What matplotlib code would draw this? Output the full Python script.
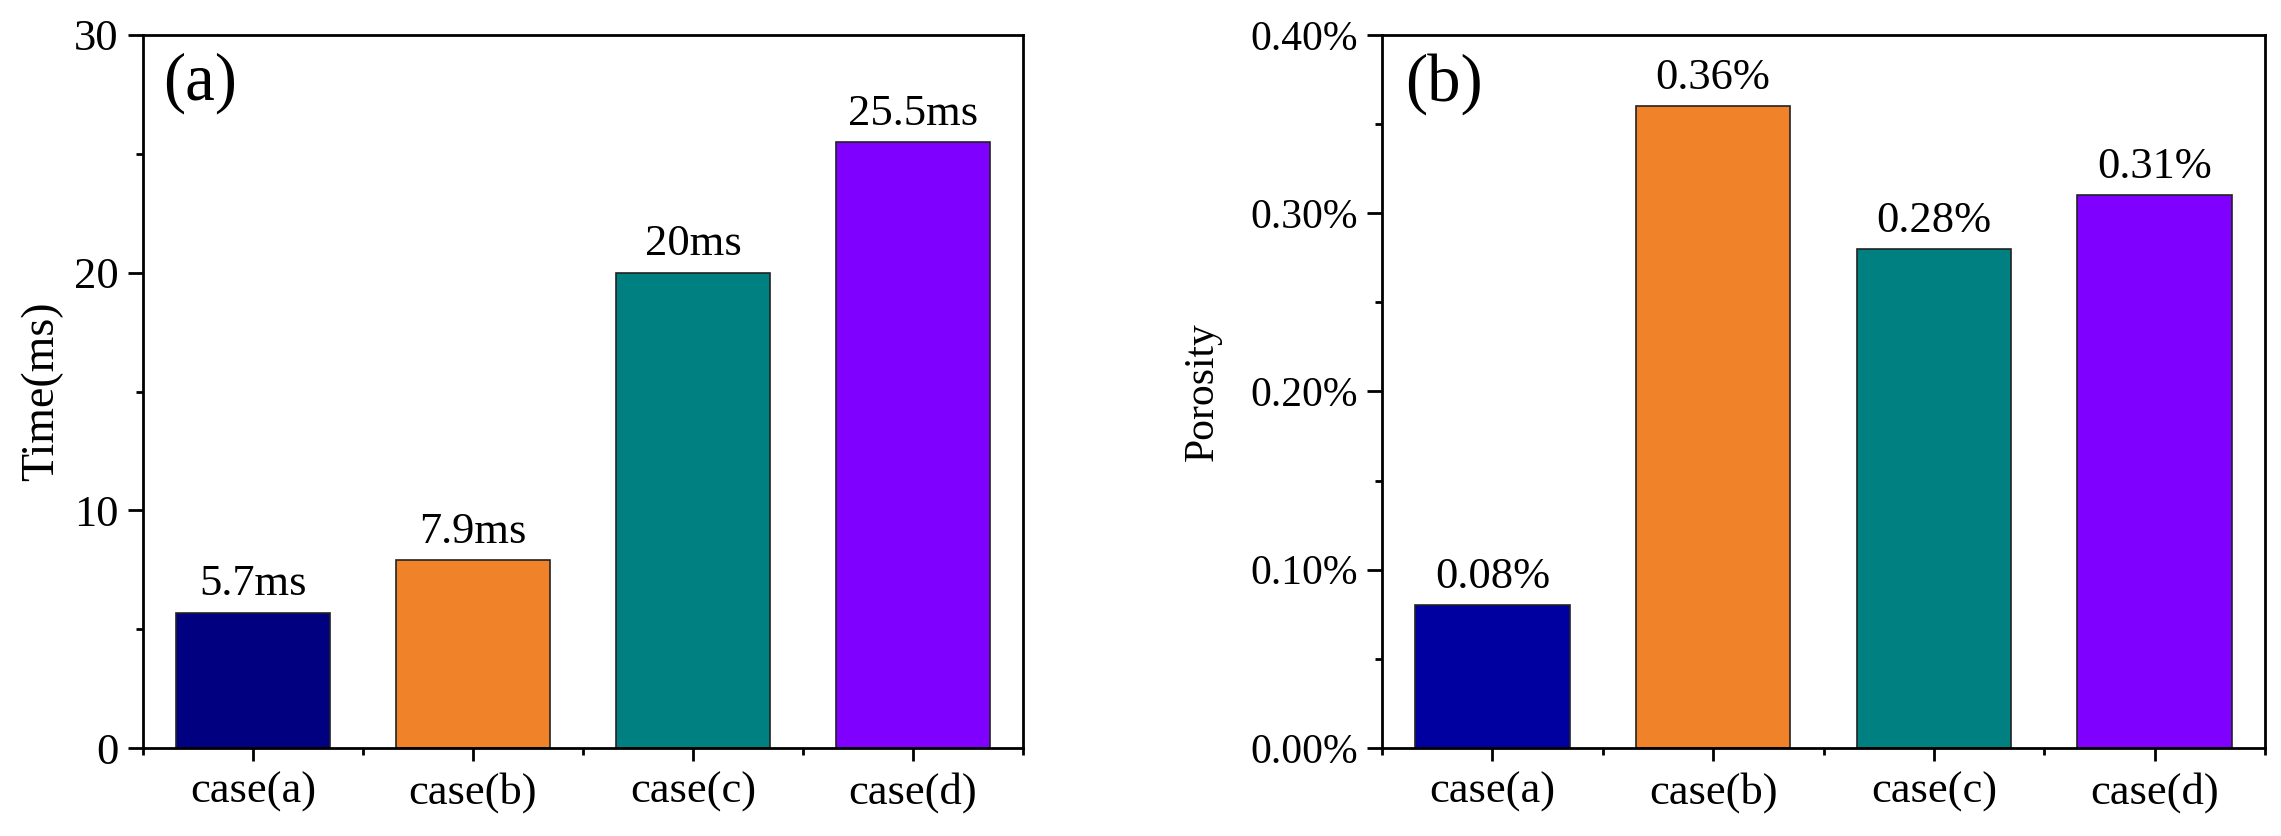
import matplotlib
matplotlib.use("Agg")
import matplotlib.pyplot as plt
from matplotlib.ticker import MultipleLocator, FuncFormatter

cases = ["case(a)", "case(b)", "case(c)", "case(d)"]
time_ms = [5.7, 7.9, 20, 25.5]
time_labels = ["5.7ms", "7.9ms", "20ms", "25.5ms"]
porosity = [0.08, 0.36, 0.28, 0.31]   # in percent
porosity_labels = ["0.08%", "0.36%", "0.28%", "0.31%"]

colors_a = ["#000080", "#F08329", "#008080", "#8000FF"]
colors_b = ["#0000A0", "#F08329", "#008080", "#8000FF"]

plt.rcParams["font.family"] = ["Liberation Serif", "DejaVu Serif"]
plt.rcParams["axes.linewidth"] = 2.0

fig = plt.figure(figsize=(22.81, 8.36), dpi=100)
ax1 = fig.add_axes([143 / 2281, 1 - 748 / 836, 880 / 2281, 713 / 836])
ax2 = fig.add_axes([1382 / 2281, 1 - 748 / 836, 883 / 2281, 713 / 836])


def style(ax, tick_size):
    x = list(range(len(cases)))
    ax.set_xlim(-0.5, len(cases) - 0.5)
    ax.set_xticks(x)
    ax.set_xticklabels(cases, fontsize=32)
    ax.set_xticks([i - 0.5 for i in range(len(cases) + 1)], minor=True)
    ax.tick_params(axis="x", which="major", length=9, width=2, pad=8)
    ax.tick_params(axis="x", which="minor", length=5, width=2)
    ax.tick_params(axis="y", which="major", length=10.5, width=2, pad=7,
                   labelsize=tick_size)
    ax.tick_params(axis="y", which="minor", length=5, width=2)
    ax.tick_params(top=False, right=False, which="both")


# (a) time
x = range(len(cases))
bars = ax1.bar(x, time_ms, width=0.7, color=colors_a, edgecolor="#222222",
               linewidth=1.2, zorder=2)
ax1.set_ylim(0, 30)
ax1.yaxis.set_major_locator(MultipleLocator(10))
ax1.yaxis.set_minor_locator(MultipleLocator(5))
style(ax1, 32)
ax1.set_ylabel("Time(ms)", fontsize=33)
ax1.yaxis.set_label_coords(-0.091, 0.5)
for b, lab in zip(bars, time_labels):
    ax1.annotate(lab, (b.get_x() + b.get_width() / 2, b.get_height()),
                 xytext=(0, 6), textcoords="offset points",
                 ha="center", va="bottom", fontsize=32)
ax1.text(0.023, 0.975, "(a)", transform=ax1.transAxes, ha="left", va="top",
         fontsize=48)

# (b) porosity
bars = ax2.bar(x, porosity, width=0.7, color=colors_b, edgecolor="#222222",
               linewidth=1.2, zorder=2)
ax2.set_ylim(0, 0.4)
ax2.yaxis.set_major_locator(MultipleLocator(0.1))
ax2.yaxis.set_minor_locator(MultipleLocator(0.05))
ax2.yaxis.set_major_formatter(FuncFormatter(lambda v, p: f"{v:.2f}%"))
style(ax2, 30)
ax2.set_ylabel("Porosity", fontsize=30)
ax2.yaxis.set_label_coords(-0.181, 0.5)
for b, lab in zip(bars, porosity_labels):
    ax2.annotate(lab, (b.get_x() + b.get_width() / 2, b.get_height()),
                 xytext=(0, 6), textcoords="offset points",
                 ha="center", va="bottom", fontsize=32)
ax2.text(0.026, 0.975, "(b)", transform=ax2.transAxes, ha="left", va="top",
         fontsize=48)

fig.savefig("out.png", dpi=100)
